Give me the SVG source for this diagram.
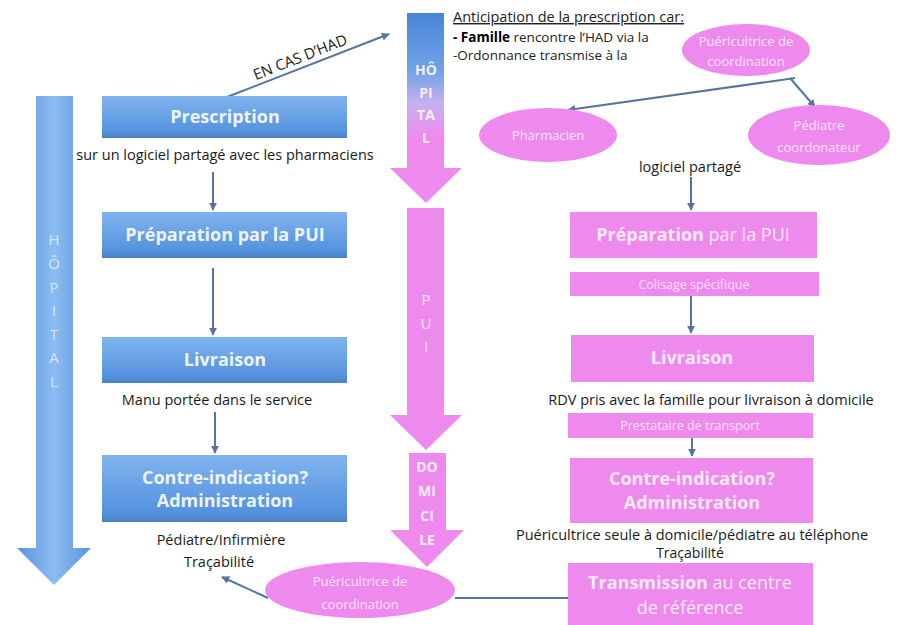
<svg xmlns="http://www.w3.org/2000/svg" width="901" height="625" viewBox="0 0 901 625">
<defs>
<linearGradient id="gBlueBox" x1="0" y1="0" x2="0" y2="1">
<stop offset="0" stop-color="#80b4ee"/>
<stop offset="0.85" stop-color="#5592de"/>
<stop offset="1" stop-color="#4a80c8"/>
</linearGradient>
<linearGradient id="gLeft" x1="0" y1="0" x2="1" y2="0">
<stop offset="0" stop-color="#5a94de"/>
<stop offset="0.5" stop-color="#8cbcf1"/>
<stop offset="1" stop-color="#5a94de"/>
</linearGradient>
<linearGradient id="gMid" gradientUnits="userSpaceOnUse" x1="0" y1="13" x2="0" y2="203">
<stop offset="0" stop-color="#4a84d6"/>
<stop offset="0.3" stop-color="#6ea3e6"/>
<stop offset="0.48" stop-color="#c8b0f0"/>
<stop offset="0.65" stop-color="#ee8aee"/>
<stop offset="1" stop-color="#ee8aee"/>
</linearGradient>
<marker id="ah" viewBox="0 0 10 10" refX="9" refY="5" markerWidth="4" markerHeight="4" orient="auto">
<path d="M0,0 L10,5 L0,10 z" fill="#56749f"/>
</marker>
<style>
.txt{font-family:"Open Sans","Liberation Sans",sans-serif;}
.bl{font-family:"Open Sans","Liberation Sans",sans-serif;font-weight:bold;font-size:18px;fill:#eef4fc;text-anchor:middle;}
.pk{font-family:"Open Sans","Liberation Sans",sans-serif;font-weight:bold;font-size:18px;fill:#fde9fd;text-anchor:middle;}
.nw{font-weight:normal;}
.note{font-family:"Open Sans","Liberation Sans",sans-serif;font-size:14.5px;fill:#1a1a1a;text-anchor:middle;}
.el{font-family:"Open Sans","Liberation Sans",sans-serif;font-size:13px;fill:#fbe2fb;text-anchor:middle;}
.bar{font-family:"Open Sans","Liberation Sans",sans-serif;font-size:12.5px;fill:#fbe0fb;text-anchor:middle;}
.lt{font-family:"Open Sans","Liberation Sans",sans-serif;font-size:15px;fill:#d4e6fb;text-anchor:middle;}
.mt{font-family:"Open Sans","Liberation Sans",sans-serif;font-weight:bold;font-size:14px;fill:#f4eefe;text-anchor:middle;}
.pt{font-family:"Open Sans","Liberation Sans",sans-serif;font-size:15px;fill:#fbe6fb;text-anchor:middle;}
.bbox{fill:url(#gBlueBox);}
.pbox{fill:#ee8aee;}
.conn{stroke:#56749f;stroke-width:2;fill:none;}
</style>
</defs>
<rect width="901" height="625" fill="#ffffff"/>

<g id="arrow-hopital-left">
<path d="M36,96 H73 V548 H91 L54,585 L17,548 H36 Z" fill="url(#gLeft)"/>
<text class="lt" x="54" y="245">H</text>
<text class="lt" x="54" y="269">Ô</text>
<text class="lt" x="54" y="293">P</text>
<text class="lt" x="54" y="316">I</text>
<text class="lt" x="54" y="340">T</text>
<text class="lt" x="54" y="363">A</text>
<text class="lt" x="54" y="387">L</text>
</g>

<g id="arrow-hopital-mid">
<path d="M407,13 H444 V168 H462 L426,203 L390,168 H407 Z" fill="url(#gMid)"/>
<text class="mt" x="426" y="75">HÔ</text>
<text class="mt" x="426" y="98">PI</text>
<text class="mt" x="426" y="120">TA</text>
<text class="mt" x="426" y="143">L</text>
</g>

<g id="arrow-pui">
<path d="M407,208 H444 V415 H462 L426,450 L390,415 H407 Z" fill="#ee8aee"/>
<text class="pt" x="426" y="305">P</text>
<text class="pt" x="426" y="329">U</text>
<text class="pt" x="426" y="352">I</text>
</g>

<g id="arrow-domicile">
<path d="M409,453 H446 V530 H464 L427,567 L390,530 H409 Z" fill="#ee8aee"/>
<text class="mt" x="427" y="472">DO</text>
<text class="mt" x="427" y="496">MI</text>
<text class="mt" x="427" y="521">CI</text>
<text class="mt" x="427" y="545">LE</text>
</g>

<g id="connectors">
<line class="conn" x1="227" y1="97" x2="389" y2="34" marker-end="url(#ah)"/>
<line class="conn" x1="213" y1="172" x2="213" y2="210" marker-end="url(#ah)"/>
<line class="conn" x1="213" y1="268" x2="213" y2="335" marker-end="url(#ah)"/>
<line class="conn" x1="215" y1="412" x2="215" y2="453" marker-end="url(#ah)"/>
<line class="conn" x1="268" y1="598" x2="222" y2="577" marker-end="url(#ah)"/>
<line class="conn" x1="455" y1="598" x2="568" y2="598"/>
<line class="conn" x1="795" y1="78" x2="568" y2="110" marker-end="url(#ah)"/>
<line class="conn" x1="790" y1="78" x2="815" y2="107" marker-end="url(#ah)"/>
<line class="conn" x1="691" y1="177" x2="691" y2="210" marker-end="url(#ah)"/>
<line class="conn" x1="691" y1="296" x2="691" y2="333" marker-end="url(#ah)"/>
<line class="conn" x1="692" y1="438" x2="692" y2="456" marker-end="url(#ah)"/>
</g>

<g id="label-en-cas">
<text class="txt" x="302" y="62" font-size="15" fill="#222" text-anchor="middle" transform="rotate(-21.5 302 62)">EN CAS D’HAD</text>
</g>

<g id="prescription">
<rect class="bbox" x="102" y="96" width="245" height="42"/>
<text class="bl" x="225" y="123">Prescription</text>
</g>
<text class="note" x="225" y="160">sur un logiciel partagé avec les pharmaciens</text>

<g id="preparation-left">
<rect class="bbox" x="102" y="212" width="245" height="46"/>
<text class="bl" x="225" y="241">Préparation par la PUI</text>
</g>

<g id="livraison-left">
<rect class="bbox" x="102" y="337" width="245" height="46"/>
<text class="bl" x="225" y="366">Livraison</text>
</g>
<text class="note" x="217" y="405">Manu portée dans le service</text>

<g id="contre-left">
<rect class="bbox" x="102" y="455" width="245" height="67"/>
<text class="bl" x="225" y="484">Contre-indication?</text>
<text class="bl" x="225" y="507">Administration</text>
</g>
<text class="note" x="221" y="545">Pédiatre/Infirmière</text>
<text class="note" x="219" y="567">Traçabilité</text>

<g id="puer-bottom">
<ellipse cx="360" cy="590" rx="95" ry="28" fill="#ee8aee"/>
<text class="el" x="360" y="586">Puéricultrice de</text>
<text class="el" x="360" y="609">coordination</text>
</g>

<g id="anticipation">
<text class="txt" x="453" y="22" font-size="14.5" fill="#222" text-decoration="underline">Anticipation de la prescription car:</text>
<text class="txt" x="453" y="42" font-size="13.5" fill="#222"><tspan font-weight="bold" fill="#000">- Famille</tspan> rencontre l’HAD via la</text>
<text class="txt" x="453" y="60" font-size="13.5" fill="#222">-Ordonnance transmise à la</text>
</g>

<g id="puer-top">
<ellipse cx="746" cy="50" rx="64" ry="26" fill="#ee8aee"/>
<text class="el" x="746" y="46">Puéricultrice de</text>
<text class="el" x="746" y="66">coordination</text>
</g>

<g id="pharmacien">
<ellipse cx="548" cy="135" rx="69" ry="27" fill="#ee8aee"/>
<text class="el" x="548" y="140">Pharmacien</text>
</g>

<g id="pediatre">
<ellipse cx="819" cy="135" rx="71" ry="30" fill="#ee8aee"/>
<text class="el" x="819" y="130">Pédiatre</text>
<text class="el" x="819" y="152">coordonateur</text>
</g>
<text class="note" x="690" y="172">logiciel partagé</text>

<g id="preparation-right">
<rect class="pbox" x="570" y="212" width="247" height="46"/>
<text class="pk" x="693" y="241">Préparation<tspan class="nw"> par la PUI</tspan></text>
</g>

<g id="colisage">
<rect class="pbox" x="570" y="272" width="249" height="24"/>
<text class="bar" x="694" y="289">Colisage spécifique</text>
</g>

<g id="livraison-right">
<rect class="pbox" x="571" y="335" width="243" height="47"/>
<text class="pk" x="692" y="364">Livraison</text>
</g>
<text class="note" x="711" y="405" font-size="14">RDV pris avec  la famille pour livraison à domicile</text>

<g id="prestataire">
<rect class="pbox" x="568" y="413" width="245" height="25"/>
<text class="bar" x="690" y="430">Prestataire de transport</text>
</g>

<g id="contre-right">
<rect class="pbox" x="570" y="458" width="243" height="65"/>
<text class="pk" x="692" y="485">Contre-indication?</text>
<text class="pk" x="692" y="509">Administration</text>
</g>
<text class="note" x="692" y="540">Puéricultrice seule à domicile/pédiatre au téléphone</text>
<text class="note" x="690" y="558" style="font-size:14px">Traçabilité</text>

<g id="transmission">
<rect class="pbox" x="568" y="563" width="245" height="62"/>
<text class="pk" x="690" y="589">Transmission<tspan class="nw"> au centre</tspan></text>
<text class="pk nw" x="690" y="614">de référence</text>
</g>
</svg>
